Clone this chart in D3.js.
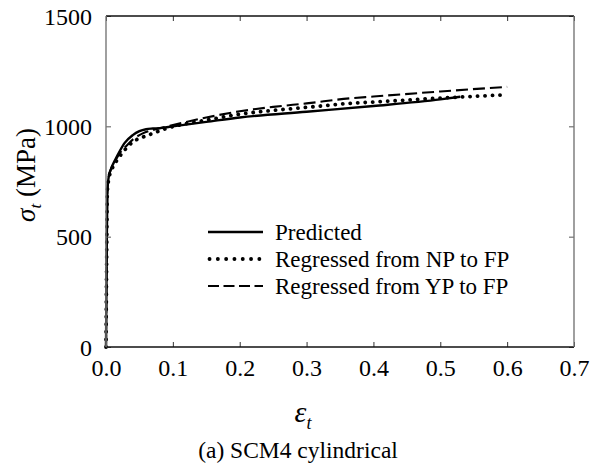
<!DOCTYPE html>
<html>
<head>
<meta charset="utf-8">
<script src="https://cdn.jsdelivr.net/npm/d3@7"></script>
<style>
  html, body { margin: 0; padding: 0; background: #fff; }
  svg { display: block; }
  text { font-family: "Liberation Serif", "Times New Roman", "DejaVu Serif", serif; fill: #000; }
</style>
</head>
<body>
<svg id="chart" width="591" height="469"></svg>
<script>
// True strain / true stress curves (MPa)
const predStrain = [0, 0.001, 0.002, 0.004, 0.008, 0.014, 0.02, 0.028, 0.04, 0.05, 0.06, 0.07, 0.08, 0.1, 0.15, 0.2, 0.3, 0.4, 0.5, 0.53];
const predStress = [0, 400, 700, 770, 810, 850, 885, 925, 960, 978, 987, 990, 992, 1000, 1020, 1040, 1066, 1092, 1122, 1134];

const npStrain = [0, 0.001, 0.002, 0.004, 0.008, 0.014, 0.02, 0.03, 0.04, 0.055, 0.07, 0.09, 0.12, 0.15, 0.2, 0.25, 0.3, 0.365, 0.4, 0.5, 0.6];
const npStress = [0, 400, 700, 760, 800, 835, 862, 900, 929, 951, 968, 990, 1012, 1028, 1055, 1072, 1086, 1104, 1110, 1128, 1143];

const ypStrain = [0, 0.001, 0.002, 0.004, 0.008, 0.014, 0.02, 0.03, 0.04, 0.055, 0.07, 0.09, 0.12, 0.15, 0.2, 0.25, 0.3, 0.365, 0.4, 0.5, 0.6];
const ypStress = [0, 400, 700, 770, 810, 845, 875, 910, 940, 968, 983, 998, 1020, 1040, 1068, 1088, 1104, 1127, 1135, 1158, 1179];

const xTicks = [0, 0.1, 0.2, 0.3, 0.4, 0.5, 0.6, 0.7];
const yTicks = [0, 500, 1000, 1500];
const seriesNames = ["Predicted", "Regressed from NP to FP", "Regressed from YP to FP"];

const svg = d3.select("#chart");
const margin = { top: 16, right: 17, bottom: 122, left: 106 };
const W = 591, H = 469;
const iw = W - margin.left - margin.right;
const ih = H - margin.top - margin.bottom;

const x = d3.scaleLinear().domain([0, 0.7]).range([0, iw]);
const y = d3.scaleLinear().domain([0, 1500]).range([ih, 0]);

const g = svg.append("g").attr("transform", `translate(${margin.left},${margin.top})`);

// Line styles per series (plot dash, legend dash)
const styles = [
  { width: 2.4, dash: null, legendDash: null, cap: "butt" },
  { width: 3.8, dash: "0.1 7.4", legendDash: "0.1 8.2", cap: "round" },
  { width: 2.1, dash: "12 5", legendDash: "11 4.5", cap: "butt" }
];

const series = [
  predStrain.map((e, i) => [e, predStress[i]]),
  npStrain.map((e, i) => [e, npStress[i]]),
  ypStrain.map((e, i) => [e, ypStress[i]])
];

const line = d3.line()
  .x(d => x(d[0]))
  .y(d => y(d[1]))
  .curve(d3.curveMonotoneX);

// Draw order: dashed, dotted, then solid on top
[2, 1, 0].forEach(i => {
  g.append("path")
    .datum(series[i])
    .attr("d", line)
    .attr("fill", "none")
    .attr("stroke", "#000")
    .attr("stroke-width", styles[i].width)
    .attr("stroke-linecap", styles[i].cap)
    .attr("stroke-dasharray", styles[i].dash);
});

// Axes with inward ticks
const tickLen = 5;
const xAxisB = d3.axisBottom(x).tickValues(xTicks).tickFormat(d3.format(".1f")).tickSizeInner(-tickLen).tickSizeOuter(0).tickPadding(12);
const xAxisT = d3.axisTop(x).tickValues(xTicks).tickFormat("").tickSizeInner(-tickLen).tickSizeOuter(0);
const yAxisL = d3.axisLeft(y).tickValues(yTicks).tickFormat(d3.format("d")).tickSizeInner(-tickLen).tickSizeOuter(0).tickPadding(14);
const yAxisR = d3.axisRight(y).tickValues(yTicks).tickFormat("").tickSizeInner(-tickLen).tickSizeOuter(0);

function styleAxis(sel, color) {
  sel.attr("font-family", null);
  sel.select(".domain").remove();
  sel.selectAll(".tick line").attr("stroke", color).attr("stroke-width", 1);
  sel.selectAll(".tick text")
    .style("font-family", "'Liberation Serif', 'Times New Roman', 'DejaVu Serif', serif")
    .style("font-size", "24px")
    .attr("fill", "#000");
}

g.append("g").attr("transform", `translate(0,${ih})`).call(xAxisB).call(s => styleAxis(s, "#333"));
g.append("g").call(xAxisT).call(s => styleAxis(s, "#333"));
g.append("g").call(yAxisL).call(s => styleAxis(s, "#555"))
  .selectAll(".tick text").attr("dy", "0.34em");
g.append("g").attr("transform", `translate(${iw},0)`).call(yAxisR).call(s => styleAxis(s, "#555"));

// Frame: horizontal edges dark, vertical edges grey
g.append("line").attr("x1", 0).attr("x2", iw).attr("y1", 0).attr("y2", 0).attr("stroke", "#111").attr("stroke-width", 1.4);
g.append("line").attr("x1", 0).attr("x2", iw).attr("y1", ih).attr("y2", ih).attr("stroke", "#111").attr("stroke-width", 1.4);
g.append("line").attr("x1", 0).attr("x2", 0).attr("y1", 0).attr("y2", ih).attr("stroke", "#777").attr("stroke-width", 1.4);
g.append("line").attr("x1", iw).attr("x2", iw).attr("y1", 0).attr("y2", ih).attr("stroke", "#777").attr("stroke-width", 1.4);

// Legend
const legend = g.append("g").attr("transform", `translate(${208 - margin.left},${232 - margin.top})`);
seriesNames.forEach((name, i) => {
  const row = legend.append("g").attr("transform", `translate(0,${i * 27})`);
  row.append("line")
    .attr("x1", i === 1 ? 1.5 : 0).attr("x2", 55).attr("y1", 0).attr("y2", 0)
    .attr("stroke", "#000")
    .attr("stroke-width", styles[i].width)
    .attr("stroke-linecap", styles[i].cap)
    .attr("stroke-dasharray", styles[i].legendDash);
  row.append("text")
    .attr("x", 67).attr("y", 0).attr("dy", "0.35em")
    .style("font-size", "23px")
    .text(name);
});

// Axis titles
const yLab = svg.append("text")
  .attr("transform", `translate(35,175) rotate(-90)`)
  .attr("text-anchor", "middle")
  .style("font-size", "27px");
yLab.append("tspan").style("font-style", "italic").text("σ");
yLab.append("tspan").attr("dy", "6").style("font-size", "17px").style("font-style", "italic").text("t");
yLab.append("tspan").attr("dy", "-6").text(" (MPa)");

const xLab = svg.append("text")
  .attr("x", 303).attr("y", 422)
  .attr("text-anchor", "middle")
  .style("font-size", "30px");
xLab.append("tspan").style("font-style", "italic").text("ε");
xLab.append("tspan").attr("dy", "7").style("font-size", "18px").style("font-style", "italic").text("t");

svg.append("text")
  .attr("x", 298).attr("y", 458)
  .attr("text-anchor", "middle")
  .style("font-size", "23.5px")
  .text("(a) SCM4 cylindrical");
</script>
</body>
</html>
